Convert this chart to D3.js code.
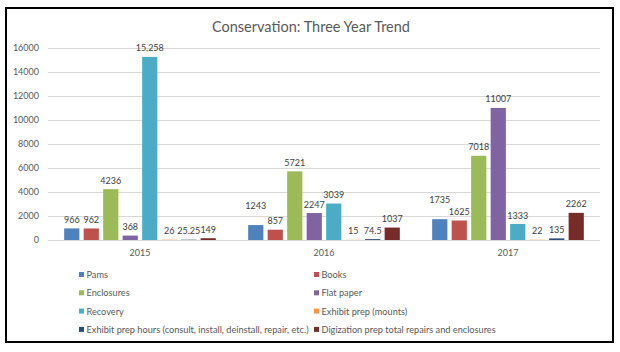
<!DOCTYPE html>
<html>
<head>
<meta charset="utf-8">
<script src="https://cdn.jsdelivr.net/npm/d3@7"></script>
<style>
  body { margin: 0; background: #fff; }
  svg text { font-family: Lato, "Open Sans", sans-serif; }
</style>
</head>
<body>
<div id="chart"></div>
<script>
// Chart data
const years = ["2015", "2016", "2017"];
const seriesNames = [
    "Pams",
    "Books",
    "Enclosures",
    "Flat paper",
    "Recovery",
    "Exhibit prep (mounts)",
    "Exhibit prep hours (consult, install, deinstall, repair, etc.)",
    "Digization prep total repairs and enclosures"
];
const pams = [966, 1243, 1735];
const books = [962, 857, 1625];
const enclosures = [4236, 5721, 7018];
const flatPaper = [368, 2247, 11007];
const recovery = [15258, 3039, 1333];
const exhibitMounts = [26, 15, 22];
const exhibitHours = [25.25, 74.5, 135];
const digitization = [149, 1037, 2262];
const recoveryLabels = ["15,258", "3039", "1333"]; // first one has a thousands separator in the original
const yTicks = [0, 2000, 4000, 6000, 8000, 10000, 12000, 14000, 16000];

const colors = ["#4f81bd", "#c0504d", "#9bbb59", "#8064a2", "#4bacc6", "#f79646", "#2c4d75", "#772c2a"];
const allValues = [pams, books, enclosures, flatPaper, recovery, exhibitMounts, exhibitHours, digitization];

function drawChart() {
    const W = 620, H = 352;
    const svg = d3.select("#chart").append("svg")
        .attr("width", W)
        .attr("height", H);

    // outer frame
    svg.append("rect")
        .attr("x", 6).attr("y", 8)
        .attr("width", 607).attr("height", 334)
        .attr("fill", "#fff")
        .attr("stroke", "#000")
        .attr("stroke-width", 2);

    const x0 = d3.scaleBand()
        .domain(years)
        .range([48, 600]);

    const x1 = d3.scaleBand()
        .domain(seriesNames)
        .range([0, x0.bandwidth()])
        .paddingInner(0.22)
        .paddingOuter(0.83);

    const y = d3.scaleLinear()
        .domain([0, 16000])
        .range([240, 48]);

    // gridlines
    svg.append("g")
        .selectAll("line")
        .data(yTicks)
        .join("line")
        .attr("x1", 48).attr("x2", 600)
        .attr("y1", d => Math.round(y(d)) + 0.5)
        .attr("y2", d => Math.round(y(d)) + 0.5)
        .attr("stroke", "#d9d9d9")
        .attr("stroke-width", 1);

    // y axis labels
    svg.append("g")
        .selectAll("text")
        .data(yTicks)
        .join("text")
        .attr("x", 39)
        .attr("y", d => y(d) + 3.3)
        .attr("text-anchor", "end")
        .style("font-size", "9px")
        .attr("fill", "#595959")
        .text(d => d);

    // x axis labels
    svg.append("g")
        .selectAll("text")
        .data(years)
        .join("text")
        .attr("x", d => x0(d) + x0.bandwidth() / 2)
        .attr("y", 256)
        .attr("text-anchor", "middle")
        .style("font-size", "9px")
        .attr("fill", "#595959")
        .text(d => d);

    // flatten into one record per bar
    const bars = [];
    seriesNames.forEach((s, i) => {
        years.forEach((yr, j) => {
            let label = String(allValues[i][j]);
            if (i === 4) label = recoveryLabels[j];
            bars.push({ series: s, idx: i, year: yr, value: allValues[i][j], label: label });
        });
    });

    svg.append("g")
        .selectAll("rect")
        .data(bars)
        .join("rect")
        .attr("x", d => x0(d.year) + x1(d.series))
        .attr("y", d => y(d.value))
        .attr("width", x1.bandwidth())
        .attr("height", d => y(0) - y(d.value))
        .attr("fill", d => colors[d.idx]);

    // value labels
    const labels = svg.append("g")
        .selectAll("text")
        .data(bars)
        .join("text")
        .attr("x", d => x0(d.year) + x1(d.series) + x1.bandwidth() / 2)
        .attr("y", d => y(d.value) - 5.5)
        .attr("text-anchor", "middle")
        .style("font-size", "9px")
        .attr("fill", "#404040")
        .text(d => d.label);

    // crude overlap fix, like excel does: bump a wide left label up when it runs into its neighbour
    const nodes = labels.nodes();
    years.forEach(yr => {
        const row = nodes.filter(n => d3.select(n).datum().year === yr)
            .sort((a, b) => d3.select(a).datum().idx - d3.select(b).datum().idx);
        for (let k = 0; k < row.length - 1; k++) {
            const a = d3.select(row[k]), b = d3.select(row[k + 1]);
            const da = a.datum(), db = b.datum();
            const wa = row[k].getComputedTextLength(), wb = row[k + 1].getComputedTextLength();
            const dx = (+b.attr("x")) - (+a.attr("x"));
            const dy = Math.abs((+b.attr("y")) - (+a.attr("y")));
            if ((wa + wb) / 2 + 3 > dx && dy < 9 && da.value >= db.value && da.label.length >= 4) {
                a.attr("y", +a.attr("y") - 11);
            }
        }
    });

    // title
    svg.append("text")
        .attr("x", 311)
        .attr("y", 32)
        .attr("text-anchor", "middle")
        .style("font-size", "14.5px")
        .attr("fill", "#595959")
        .text("Conservation: Three Year Trend");

    // legend, two columns
    const legend = svg.append("g")
        .selectAll("g")
        .data(seriesNames)
        .join("g")
        .attr("transform", (d, i) => `translate(${i % 2 === 0 ? 79 : 314},${275 + Math.floor(i / 2) * 18.3})`);

    legend.append("rect")
        .attr("x", 0).attr("y", -3)
        .attr("width", 5).attr("height", 5)
        .attr("fill", (d, i) => colors[i]);

    legend.append("text")
        .attr("x", 7.5)
        .attr("y", 3)
        .style("font-size", "9.2px")
        .attr("fill", "#595959")
        .text(d => d);
}

drawChart();
</script>
</body>
</html>
